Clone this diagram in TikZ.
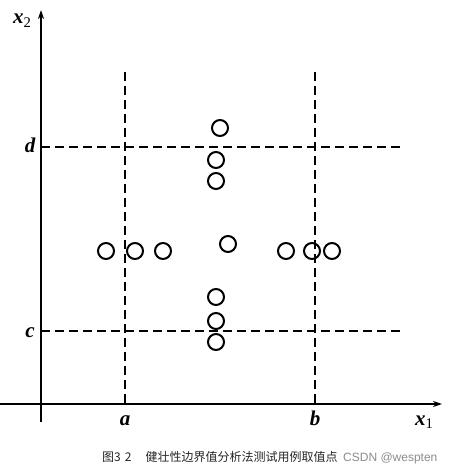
\documentclass[tikz,border=0pt]{standalone}
\usepackage{fontspec}
\setmainfont{Liberation Serif}
\newfontfamily\cjk{Noto Sans CJK SC}
\newfontfamily\capsans{Liberation Sans}
\usetikzlibrary{arrows.meta}
\begin{document}
\begin{tikzpicture}[x=1pt,y=-1pt,
  axis/.style={line width=1.4pt,-{Stealth[length=9pt,width=6pt]}},
  guide/.style={line width=1.3pt,dash pattern=on 9pt off 5pt},
  pt/.style={circle,draw,line width=2pt,minimum size=16pt,inner sep=0pt},
  lab/.style={font=\fontsize{21}{21}\selectfont\bfseries\itshape,inner sep=0pt}]
\useasboundingbox (0,0) rectangle (454,473);
\fill[white] (0,0) rectangle (454,473);
% axes
\coordinate (xs) at (0,404);
\coordinate (xe) at (442,404);
\coordinate (ys) at (41,422);
\coordinate (ye) at (41,10);
\draw[axis] (xs) -- (xe);
\draw[axis] (ys) -- (ye);
% guide lines
\coordinate (at) at (125,72);
\coordinate (ab) at (125,404);
\coordinate (bt) at (315,72);
\coordinate (bb) at (315,404);
\coordinate (dl) at (41,147);
\coordinate (dr) at (403,147);
\coordinate (cl) at (41,331);
\coordinate (cr) at (403,331);
\draw[guide] (at) -- (ab);
\draw[guide] (bt) -- (bb);
\draw[guide] (dl) -- (dr);
\draw[guide] (cl) -- (cr);
% labels
\node[lab,anchor=base] (la) at (125,425) {a};
\node[lab,anchor=base] (lb) at (315,425) {b};
\node[lab,anchor=base] (lc) at (30,337) {c};
\node[lab,anchor=base] (ld) at (30,153) {d};
\node[lab,anchor=base west] (lx1) at (415,425) {x\textsubscript{\upshape\mdseries 1}};
\node[lab,anchor=base west] (lx2) at (13,24) {x\textsubscript{\upshape\mdseries 2}};
% points
\node[pt] (p1) at (220,128) {};
\node[pt] (p2) at (216,160) {};
\node[pt] (p3) at (216,181) {};
\node[pt] (p4) at (228,244) {};
\node[pt] (p5) at (216,297) {};
\node[pt] (p6) at (216,321) {};
\node[pt] (p7) at (216,342) {};
\node[pt] (p8) at (106,251) {};
\node[pt] (p9) at (135,251) {};
\node[pt] (p10) at (163,251) {};
\node[pt] (p11) at (286,251) {};
\node[pt] (p12) at (312,251) {};
\node[pt] (p13) at (332,251) {};
% caption
\node[anchor=base west,inner sep=0pt,text=black!85,font=\cjk\fontsize{12}{13}\selectfont] (cap) at (102,461) {图3\hspace{4pt}2\hspace{14pt}健壮性边界值分析法测试用例取值点};
\node[anchor=base west,inner sep=0pt,text=black!45,font=\capsans\fontsize{12}{13}\selectfont] (wm) at (343,461) {CSDN @wespten};
\end{tikzpicture}
\end{document}
